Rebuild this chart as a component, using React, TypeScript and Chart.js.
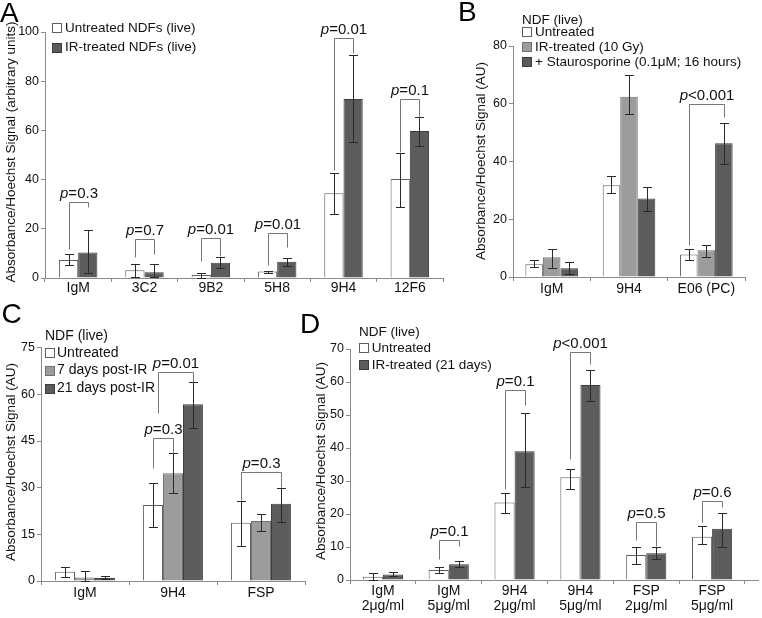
import { useEffect, useRef } from 'react';
import { Chart, registerables } from 'chart.js';

Chart.register(...registerables);

const FONT = '"Liberation Sans", Arial, Helvetica, sans-serif';
const AXIS = '#8a8a8a';
const TXT = '#111111';
const ERR = '#2a2a2a';
const BRK = '#777777';
const WHITE_FILL = '#ffffff';
const WHITE_LINE = '#5e5e5e';
const GRAY_FILL = '#9c9c9c';
const GRAY_LINE = '#707070';
const DARK_FILL = '#5c5c5c';
const DARK_LINE = '#3c3c3c';

// ---------- Panel A ----------
const catsA = ['IgM', '3C2', '9B2', '5H8', '9H4', '12F6'];
const aUnt = [7.3, 3.2, 1.2, 2.6, 34.5, 40.2];
const aUntLo = [5.3, 0.5, 0, 1.9, 26.0, 28.9];
const aUntHi = [9.6, 5.7, 2.2, 3.0, 42.6, 51.0];
const aIR = [10.4, 2.3, 6.2, 6.6, 72.8, 59.8];
const aIRLo = [1.9, 0.5, 3.9, 4.9, 55.3, 53.7];
const aIRHi = [19.5, 5.7, 8.7, 8.3, 90.6, 65.6];
const bracketsA = [
  { cat: 0, a: 0, b: 1, top: 30.9, left: 11.8, right: 28.9, text: 'p=0.3' },
  { cat: 1, a: 0, b: 1, top: 15.7, left: 8.7, right: 9.8, text: 'p=0.7' },
  { cat: 2, a: 0, b: 1, top: 16.1, left: 7.0, right: 8.9, text: 'p=0.01' },
  { cat: 3, a: 0, b: 1, top: 18.2, left: 5.3, right: 12.7, text: 'p=0.01' },
  { cat: 4, a: 0, b: 1, top: 97.7, left: 43.9, right: 91.3, text: 'p=0.01' },
  { cat: 5, a: 0, b: 1, top: 72.8, left: 51.3, right: 65.6, text: 'p=0.1' },
];

// ---------- Panel B ----------
const catsB = ['IgM', '9H4', 'E06 (PC)'];
const bUnt = [4.4, 31.8, 7.8];
const bUntLo = [3.6, 29.0, 5.9];
const bUntHi = [5.9, 35.0, 9.7];
const bIR = [6.8, 62.4, 9.3];
const bIRLo = [3.1, 56.3, 6.8];
const bIRHi = [9.7, 69.9, 11.0];
const bSt = [3.0, 27.2, 46.3];
const bStLo = [1.0, 23.0, 39.3];
const bStHi = [5.3, 31.2, 53.4];
const bracketsB = [
  { cat: 2, a: 0, b: 2, top: 60.0, left: 11.0, right: 55.5, text: 'p<0.001' },
];

// ---------- Panel C ----------
const catsC = ['IgM', '9H4', 'FSP'];
const cUnt = [3.0, 24.4, 18.7];
const cUntLo = [1.4, 17.5, 11.3];
const cUntHi = [4.4, 31.6, 25.7];
const c7d = [1.1, 34.6, 19.3];
const c7dLo = [0, 28.4, 16.1];
const c7dHi = [3.3, 41.0, 21.5];
const c21d = [1.0, 56.8, 24.8];
const c21dLo = [0.5, 49.1, 18.9];
const c21dHi = [1.6, 63.9, 29.8];
const bracketsC = [
  { cat: 1, a: 0, b: 1, top: 46.1, left: 36.3, right: 41.3, text: 'p=0.3' },
  { cat: 1, a: 0, b: 2, top: 67.3, left: 53.9, right: 64.0, text: 'p=0.01', shiftL: 5 },
  { cat: 2, a: 0, b: 2, top: 35.1, left: 26.0, right: 30.3, text: 'p=0.3' },
];

// ---------- Panel D ----------
const catsD = [
  ['IgM', '2μg/ml'],
  ['IgM', '5μg/ml'],
  ['9H4', '2μg/ml'],
  ['9H4', '5μg/ml'],
  ['FSP', '2μg/ml'],
  ['FSP', '5μg/ml'],
];
const dUnt = [1.0, 3.0, 23.5, 31.1, 7.6, 13.1];
const dUntLo = [0, 2.0, 20.2, 27.7, 4.8, 10.9];
const dUntHi = [2.2, 3.8, 26.3, 33.5, 10.1, 16.5];
const dIR = [1.7, 4.8, 39.0, 59.1, 8.1, 15.5];
const dIRLo = [1.2, 3.8, 28.1, 54.3, 6.3, 9.9];
const dIRHi = [2.3, 5.8, 50.5, 63.6, 10.1, 20.2];
const bracketsD = [
  { cat: 1, a: 0, b: 1, top: 12.1, left: 6.4, right: 10.3, text: 'p=0.1' },
  { cat: 2, a: 0, b: 1, top: 57.5, left: 27.6, right: 53.0, text: 'p=0.1' },
  { cat: 3, a: 0, b: 1, top: 69.0, left: 36.6, right: 65.5, text: 'p<0.001' },
  { cat: 4, a: 0, b: 1, top: 17.7, left: 12.1, right: 10.3, text: 'p=0.5' },
  { cat: 5, a: 0, b: 1, top: 24.0, left: 17.7, right: 22.2, text: 'p=0.6' },
];

type Series = { label: string; values: number[]; lo: number[]; hi: number[]; fill: string; line: string };
type Bracket = { cat: number; a: number; b: number; top: number; left: number; right: number; text: string; shiftL?: number };
type Panel = {
  letter: string; letterX: number; letterY: number;
  cats: any[];
  series: Series[];
  brackets: Bracket[];
  yMax: number; yStep: number;
  area: { left: number; top: number; right: number; bottom: number };
  catPct: number;
  yTitle: string; yTitleX: number; yTitleY: number;
  legendTitle?: string; legendTitleY?: number;
  legendRows: number[]; boxX: number; textX: number; legendFont: number;
  xPad: number; xLine: string;
  axisExtendTo?: number;
};

const W = 762;
const H = 618;
const WY = 40;
const HX = 40;

const panels: Panel[] = [
  {
    letter: 'A', letterX: 0, letterY: 21.7,
    cats: catsA,
    series: [
      { label: 'Untreated NDFs (live)', values: aUnt, lo: aUntLo, hi: aUntHi, fill: WHITE_FILL, line: WHITE_LINE },
      { label: 'IR-treated NDFs (live)', values: aIR, lo: aIRLo, hi: aIRHi, fill: DARK_FILL, line: DARK_LINE },
    ],
    brackets: bracketsA,
    yMax: 100, yStep: 20,
    area: { left: 45, top: 32, right: 443, bottom: 278 },
    catPct: 0.58,
    yTitle: 'Absorbance/Hoechst Signal (arbitrary units)', yTitleX: 11, yTitleY: 152,
    legendRows: [28, 47.5], boxX: 52, textX: 65, legendFont: 13.5,
    xPad: -2.4, xLine: '16.8px',
  },
  {
    letter: 'B', letterX: 458, letterY: 20.7,
    cats: catsB,
    series: [
      { label: 'Untreated', values: bUnt, lo: bUntLo, hi: bUntHi, fill: WHITE_FILL, line: WHITE_LINE },
      { label: 'IR-treated (10 Gy)', values: bIR, lo: bIRLo, hi: bIRHi, fill: GRAY_FILL, line: GRAY_LINE },
      { label: '+ Staurosporine (0.1μM; 16 hours)', values: bSt, lo: bStLo, hi: bStHi, fill: DARK_FILL, line: DARK_LINE },
    ],
    brackets: bracketsB,
    yMax: 80, yStep: 20,
    area: { left: 513, top: 46, right: 745, bottom: 277 },
    catPct: 0.68,
    yTitle: 'Absorbance/Hoechst Signal (AU)', yTitleX: 481, yTitleY: 161,
    legendTitle: 'NDF (live)', legendTitleY: 20,
    legendRows: [32.3, 47.3, 62.3], boxX: 522, textX: 535, legendFont: 13.5,
    xPad: 0.1, xLine: '16.8px',
  },
  {
    letter: 'C', letterX: 1.6, letterY: 323,
    cats: catsC,
    series: [
      { label: 'Untreated', values: cUnt, lo: cUntLo, hi: cUntHi, fill: WHITE_FILL, line: WHITE_LINE },
      { label: '7 days post-IR', values: c7d, lo: c7dLo, hi: c7dHi, fill: GRAY_FILL, line: GRAY_LINE },
      { label: '21 days post-IR', values: c21d, lo: c21dLo, hi: c21dHi, fill: DARK_FILL, line: DARK_LINE },
    ],
    brackets: bracketsC,
    yMax: 75, yStep: 15,
    area: { left: 41, top: 347.7, right: 305, bottom: 581 },
    catPct: 0.68,
    yTitle: 'Absorbance/Hoechst Signal (AU)', yTitleX: 11, yTitleY: 462,
    legendTitle: 'NDF (live)', legendTitleY: 335.8,
    legendRows: [353, 370.5, 388.5], boxX: 45, textX: 57, legendFont: 14,
    xPad: -0.4, xLine: '16.8px',
  },
  {
    letter: 'D', letterX: 300, letterY: 332.7,
    cats: catsD,
    series: [
      { label: 'Untreated', values: dUnt, lo: dUntLo, hi: dUntHi, fill: WHITE_FILL, line: WHITE_LINE },
      { label: 'IR-treated (21 days)', values: dIR, lo: dIRLo, hi: dIRHi, fill: DARK_FILL, line: DARK_LINE },
    ],
    brackets: bracketsD,
    yMax: 70, yStep: 10,
    area: { left: 350, top: 349, right: 745, bottom: 580 },
    catPct: 0.61,
    yTitle: 'Absorbance/Hoechst Signal (AU)', yTitleX: 321, yTitleY: 461,
    legendTitle: 'NDF (live)', legendTitleY: 332.5,
    legendRows: [348.3, 365.3], boxX: 359, textX: 371.7, legendFont: 13.5,
    xPad: 0, xLine: '15px',
    axisExtendTo: 759,
  },
];

function drawP(ctx: CanvasRenderingContext2D, text: string, cx: number, baseline: number) {
  const head = text.slice(0, 1);
  const rest = text.slice(1);
  ctx.font = `italic 15px ${FONT}`;
  const w1 = ctx.measureText(head).width;
  ctx.font = `15px ${FONT}`;
  const w2 = ctx.measureText(rest).width;
  const x0 = cx - (w1 + w2) / 2;
  ctx.textAlign = 'left';
  ctx.textBaseline = 'alphabetic';
  ctx.fillStyle = TXT;
  ctx.font = `italic 15px ${FONT}`;
  ctx.fillText(head, x0, baseline);
  ctx.font = `15px ${FONT}`;
  ctx.fillText(rest, x0 + w1, baseline);
}

const px = (v: number) => Math.round(v) + 0.5;

function overlay(p: Panel) {
  return {
    id: 'overlay' + p.letter,
    afterDatasetsDraw(chart: any) {
      const ctx: CanvasRenderingContext2D = chart.ctx;
      const ys = chart.scales.y;
      ctx.save();
      ctx.lineWidth = 1;
      ctx.strokeStyle = ERR;
      p.series.forEach((s, i) => {
        const meta = chart.getDatasetMeta(i);
        meta.data.forEach((bar: any, j: number) => {
          const x = px(bar.x);
          const y1 = px(ys.getPixelForValue(s.hi[j]));
          const y2 = px(ys.getPixelForValue(s.lo[j]));
          ctx.beginPath();
          ctx.moveTo(x, y1); ctx.lineTo(x, y2);
          ctx.moveTo(x - 4.5, y1); ctx.lineTo(x + 4.5, y1);
          ctx.moveTo(x - 4.5, y2); ctx.lineTo(x + 4.5, y2);
          ctx.stroke();
        });
      });
      ctx.strokeStyle = BRK;
      p.brackets.forEach((b) => {
        const xl = px(chart.getDatasetMeta(b.a).data[b.cat].x + (b.shiftL || 0));
        const xr = px(chart.getDatasetMeta(b.b).data[b.cat].x);
        const yt = px(ys.getPixelForValue(b.top));
        ctx.beginPath();
        ctx.moveTo(xl, px(ys.getPixelForValue(b.left)));
        ctx.lineTo(xl, yt);
        ctx.lineTo(xr, yt);
        ctx.lineTo(xr, px(ys.getPixelForValue(b.right)));
        ctx.stroke();
        drawP(ctx, b.text, (xl + xr) / 2, yt - 5);
      });
      ctx.restore();
    },
    afterDraw(chart: any) {
      const ctx: CanvasRenderingContext2D = chart.ctx;
      ctx.save();
      if (p.axisExtendTo) {
        const yb = px(chart.chartArea.bottom);
        ctx.strokeStyle = AXIS;
        ctx.lineWidth = 1;
        ctx.beginPath();
        ctx.moveTo(chart.chartArea.right, yb);
        ctx.lineTo(p.axisExtendTo, yb);
        ctx.stroke();
      }
      ctx.fillStyle = '#000';
      ctx.font = `28px ${FONT}`;
      ctx.textAlign = 'left';
      ctx.textBaseline = 'alphabetic';
      ctx.fillText(p.letter, p.letterX, p.letterY);
      ctx.save();
      ctx.translate(p.yTitleX, p.yTitleY);
      ctx.rotate(-Math.PI / 2);
      ctx.font = `13.5px ${FONT}`;
      ctx.textAlign = 'center';
      ctx.textBaseline = 'middle';
      ctx.fillStyle = TXT;
      ctx.fillText(p.yTitle, 0, 0);
      ctx.restore();
      ctx.font = `${p.legendFont}px ${FONT}`;
      ctx.textBaseline = 'middle';
      ctx.textAlign = 'left';
      ctx.fillStyle = TXT;
      if (p.legendTitle) ctx.fillText(p.legendTitle, p.boxX, p.legendTitleY as number);
      p.series.forEach((s, i) => {
        const cy = p.legendRows[i];
        const top = Math.round(cy - 5);
        ctx.fillStyle = s.fill;
        ctx.fillRect(p.boxX, top, 10, 10);
        ctx.strokeStyle = s.line;
        ctx.lineWidth = 1;
        ctx.strokeRect(p.boxX + 0.5, top + 0.5, 9, 9);
        ctx.fillStyle = TXT;
        ctx.fillText(s.label, p.textX, cy);
      });
      ctx.restore();
    },
  };
}

function makeChart(canvas: HTMLCanvasElement, p: Panel) {
  const a = p.area;
  return new Chart(canvas, {
    type: 'bar',
    data: {
      labels: p.cats,
      datasets: p.series.map((s) => ({
        label: s.label,
        data: s.values,
        backgroundColor: s.fill,
        borderColor: s.line,
        borderWidth: 1,
        categoryPercentage: p.catPct,
        barPercentage: 1,
      })),
    },
    options: {
      responsive: false,
      animation: false,
      devicePixelRatio: 1,
      events: [],
      layout: {
        padding: { left: a.left - WY, top: a.top, right: W - a.right, bottom: H - a.bottom - HX },
      },
      plugins: { legend: { display: false }, tooltip: { enabled: false }, title: { display: false } },
      scales: {
        x: {
          type: 'category',
          offset: true,
          grid: { display: true, drawOnChartArea: false, drawTicks: true, tickLength: 4, color: AXIS, offset: true },
          border: { display: true, color: AXIS, width: 1 },
          ticks: {
            color: TXT,
            font: { family: FONT, size: 14, lineHeight: p.xLine },
            padding: p.xPad,
            maxRotation: 0,
            autoSkip: false,
          },
          afterFit: (s: any) => { s.height = HX; },
        },
        y: {
          min: 0,
          max: p.yMax,
          grid: { display: true, drawOnChartArea: false, drawTicks: true, tickLength: 4, color: AXIS },
          border: { display: true, color: AXIS, width: 1 },
          ticks: { stepSize: p.yStep, color: TXT, font: { family: FONT, size: 12.5 }, padding: 2 },
          afterFit: (s: any) => { s.width = WY; },
        },
      },
    } as any,
    plugins: [overlay(p)],
  });
}

export default function App() {
  const refs = [useRef<HTMLCanvasElement>(null), useRef<HTMLCanvasElement>(null), useRef<HTMLCanvasElement>(null), useRef<HTMLCanvasElement>(null)];
  useEffect(() => {
    document.body.style.margin = '0';
    const charts = panels.map((p, i) => makeChart(refs[i].current as HTMLCanvasElement, p));
    return () => charts.forEach((c) => c.destroy());
  }, []);
  return (
    <div style={{ position: 'fixed', left: 0, top: 0, width: W, height: H, background: '#fff' }}>
      {refs.map((r, i) => (
        <canvas
          key={i}
          ref={r}
          width={W}
          height={H}
          style={{ position: 'absolute', left: 0, top: 0, width: W, height: H }}
        />
      ))}
    </div>
  );
}
